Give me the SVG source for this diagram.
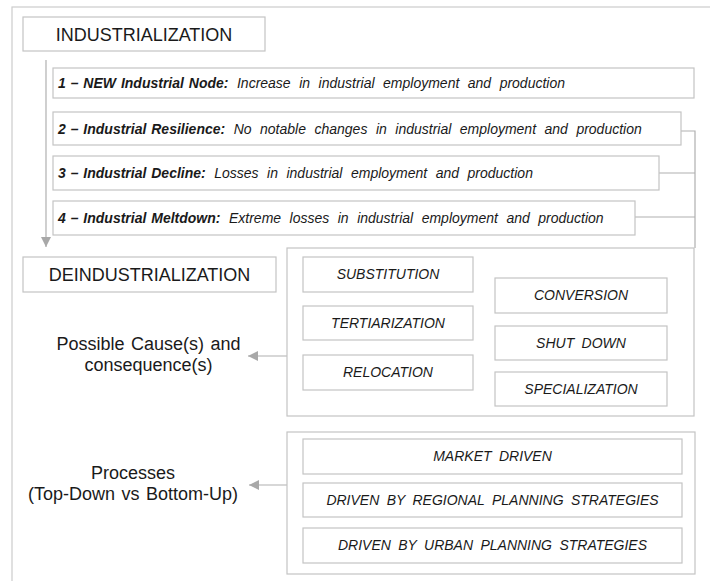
<svg xmlns="http://www.w3.org/2000/svg" width="710" height="581" viewBox="0 0 710 581">
<defs>
<style>
.frame{fill:none;stroke:#cccccc;stroke-width:1.2}
.box{fill:#ffffff;stroke:#c4c4c4;stroke-width:1.2}
.con{fill:none;stroke:#b0b0b0;stroke-width:1.2}
.t{font-family:"Liberation Sans",Arial,sans-serif;fill:#1a1a1a;word-spacing:3.5px}
.big{font-size:18px;text-anchor:middle;word-spacing:1.5px}
.lbl{font-size:14px;font-style:italic;text-anchor:middle}
.row{font-size:14px;font-style:italic;word-spacing:4.6px}
.b{font-weight:bold;font-style:italic;word-spacing:1px}
</style>
<marker id="ah" viewBox="0 0 10 10" refX="10" refY="5" markerWidth="10" markerHeight="10" markerUnits="userSpaceOnUse" orient="auto">
<path d="M0,0 L10,5 L0,10 Z" fill="#a8a8a8"/>
</marker>
</defs>
<rect width="710" height="581" fill="#ffffff"/>
<rect class="frame" x="12" y="7" width="720" height="600"/>

<g id="connectors">
<line class="con" x1="46" y1="60" x2="46" y2="247" marker-end="url(#ah)"/>
<polyline class="con" points="681,131 695,131 695,248"/>
<line class="con" x1="659" y1="173" x2="695" y2="173"/>
<line class="con" x1="635" y1="217" x2="695" y2="217"/>
<line class="con" x1="287" y1="356" x2="248" y2="356" marker-end="url(#ah)"/>
<line class="con" x1="287" y1="485" x2="249" y2="485" marker-end="url(#ah)"/>
</g>

<g id="industrialization">
<rect class="box" x="23" y="17" width="242" height="34"/>
<text class="t big" x="144" y="40.5">INDUSTRIALIZATION</text>
</g>

<g id="type1">
<rect class="box" x="53" y="68" width="641" height="30"/>
<text class="t row" x="58" y="88"><tspan class="b">1 – NEW Industrial Node:</tspan> Increase in industrial employment and production</text>
</g>
<g id="type2">
<rect class="box" x="53" y="112" width="628" height="33"/>
<text class="t row" x="58" y="133.5"><tspan class="b">2 – Industrial Resilience:</tspan> No notable changes in industrial employment and production</text>
</g>
<g id="type3">
<rect class="box" x="53" y="156" width="606" height="34"/>
<text class="t row" x="58" y="178"><tspan class="b">3 – Industrial Decline:</tspan> Losses in industrial employment and production</text>
</g>
<g id="type4">
<rect class="box" x="53" y="201" width="582" height="34"/>
<text class="t row" x="58" y="223"><tspan class="b">4 – Industrial Meltdown:</tspan> Extreme losses in industrial employment and production</text>
</g>

<g id="deindustrialization">
<rect class="box" x="23" y="257" width="253" height="35"/>
<text class="t big" x="149.5" y="281">DEINDUSTRIALIZATION</text>
</g>

<g id="causes-label">
<text class="t big" x="148.5" y="350">Possible Cause(s) and</text>
<text class="t big" x="148.5" y="371">consequence(s)</text>
</g>

<g id="causes">
<rect class="box" x="287" y="248" width="407" height="168"/>
<g id="substitution"><rect class="box" x="303" y="257" width="170" height="35"/><text class="t lbl" x="388" y="279">SUBSTITUTION</text></g>
<g id="tertiarization"><rect class="box" x="303" y="306" width="170" height="34"/><text class="t lbl" x="388" y="327.5">TERTIARIZATION</text></g>
<g id="relocation"><rect class="box" x="303" y="355" width="170" height="35"/><text class="t lbl" x="388" y="377">RELOCATION</text></g>
<g id="conversion"><rect class="box" x="495" y="278" width="172" height="35"/><text class="t lbl" x="581" y="300">CONVERSION</text></g>
<g id="shutdown"><rect class="box" x="495" y="326" width="172" height="34"/><text class="t lbl" x="581" y="347.5">SHUT DOWN</text></g>
<g id="specialization"><rect class="box" x="495" y="372" width="172" height="34"/><text class="t lbl" x="581" y="393.5">SPECIALIZATION</text></g>
</g>

<g id="processes-label">
<text class="t big" x="133" y="479">Processes</text>
<text class="t big" x="133" y="500">(Top-Down vs Bottom-Up)</text>
</g>

<g id="processes">
<rect class="box" x="287" y="432" width="408" height="142"/>
<g id="market"><rect class="box" x="303" y="439" width="379" height="35"/><text class="t lbl" x="492.5" y="461">MARKET DRIVEN</text></g>
<g id="regional"><rect class="box" x="303" y="483" width="379" height="34"/><text class="t lbl" x="492.5" y="504.5">DRIVEN BY REGIONAL PLANNING STRATEGIES</text></g>
<g id="urban"><rect class="box" x="303" y="528" width="379" height="35"/><text class="t lbl" x="492.5" y="550">DRIVEN BY URBAN PLANNING STRATEGIES</text></g>
</g>
</svg>
